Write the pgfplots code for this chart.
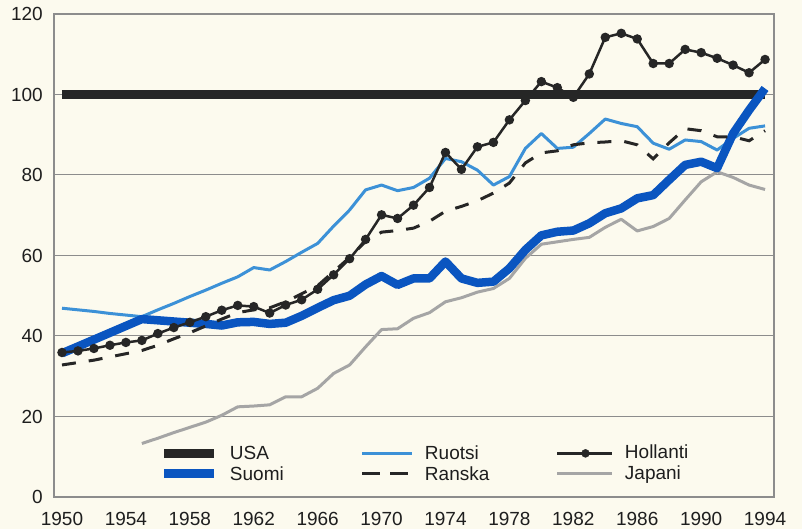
\documentclass[border=0pt]{standalone}
\usepackage{fontspec}
\setmainfont{Liberation Sans}
\usepackage{pgfplots}
\usepackage{pgfplotstable}
\pgfplotsset{compat=1.18}
\definecolor{bg}{RGB}{252,250,238}
\definecolor{suomi}{RGB}{10,85,192}
\definecolor{ruotsi}{RGB}{60,145,215}
\definecolor{japani}{RGB}{165,165,165}
\definecolor{usa}{RGB}{38,38,38}
\definecolor{axgray}{RGB}{140,140,140}
\definecolor{txt}{RGB}{30,30,30}

\pgfplotstableread{
x y
1950 100
1994 100
}\usa

\pgfplotstableread{
x y
1950 35.7
1951 37.4
1952 39.1
1953 40.8
1954 42.5
1955 44.2
1956 43.9
1957 43.6
1958 43.3
1959 43.0
1960 42.6
1961 43.4
1962 43.5
1963 43.0
1964 43.3
1965 45.0
1966 47.0
1967 48.9
1968 50.0
1969 52.8
1970 54.9
1971 52.7
1972 54.3
1973 54.3
1974 58.5
1975 54.3
1976 53.2
1977 53.5
1978 56.8
1979 61.4
1980 65.0
1981 65.9
1982 66.2
1983 68.0
1984 70.5
1985 71.7
1986 74.2
1987 75.0
1988 78.8
1989 82.5
1990 83.3
1991 81.7
1992 90.3
1993 96.1
1994 101.5
}\suomi

\pgfplotstableread{
x y
1950 46.9
1951 46.5
1952 46.1
1953 45.6
1954 45.2
1955 44.8
1956 46.5
1957 48.1
1958 49.8
1959 51.4
1960 53.1
1961 54.7
1962 57.0
1963 56.4
1964 58.5
1965 60.8
1966 63.0
1967 67.3
1968 71.3
1969 76.3
1970 77.5
1971 76.1
1972 76.9
1973 79.2
1974 84.1
1975 83.3
1976 81.2
1977 77.5
1978 79.6
1979 86.6
1980 90.3
1981 86.6
1982 86.9
1983 90.3
1984 93.9
1985 92.8
1986 92.0
1987 87.9
1988 86.4
1989 88.7
1990 88.3
1991 86.2
1992 89.1
1993 91.6
1994 92.2
}\ruotsi

\pgfplotstableread{
x y
1950 32.8
1951 33.4
1952 34.0
1953 34.8
1954 35.6
1955 36.4
1956 37.7
1957 39.3
1958 40.8
1959 42.5
1960 44.2
1961 45.8
1962 46.5
1963 47.0
1964 48.5
1965 50.5
1966 52.5
1967 56.0
1968 59.5
1969 63.5
1970 65.8
1971 66.2
1972 66.8
1973 68.5
1974 71.0
1975 72.2
1976 73.6
1977 75.5
1978 78.0
1979 83.0
1980 85.5
1981 86.0
1982 87.5
1983 88.0
1984 88.2
1985 88.5
1986 87.5
1987 84.0
1988 88.0
1989 91.5
1990 91.0
1991 89.5
1992 89.5
1993 88.5
1994 91.0
}\ranska

\pgfplotstableread{
x y
1950 35.9
1951 36.3
1952 36.9
1953 37.7
1954 38.4
1955 38.9
1956 40.6
1957 42.1
1958 43.4
1959 44.8
1960 46.4
1961 47.6
1962 47.3
1963 45.7
1964 47.7
1965 49.0
1966 51.6
1967 55.2
1968 59.2
1969 64.0
1970 70.1
1971 69.2
1972 72.5
1973 76.9
1974 85.6
1975 81.4
1976 87.0
1977 88.1
1978 93.7
1979 98.5
1980 103.2
1981 101.7
1982 99.3
1983 105.1
1984 114.2
1985 115.2
1986 113.8
1987 107.7
1988 107.7
1989 111.2
1990 110.4
1991 109.0
1992 107.3
1993 105.4
1994 108.7
}\hollanti

\pgfplotstableread{
x y
1955 13.3
1956 14.6
1957 16.0
1958 17.3
1959 18.6
1960 20.3
1961 22.4
1962 22.6
1963 22.9
1964 24.9
1965 24.9
1966 27.0
1967 30.7
1968 32.8
1969 37.3
1970 41.6
1971 41.8
1972 44.4
1973 45.8
1974 48.5
1975 49.5
1976 50.9
1977 51.8
1978 54.3
1979 59.3
1980 62.8
1981 63.4
1982 64.0
1983 64.5
1984 67.0
1985 69.0
1986 66.1
1987 67.2
1988 69.2
1989 73.8
1990 78.3
1991 80.8
1992 79.4
1993 77.5
1994 76.4
}\japani

\newcommand{\lt}[1]{\makebox[131pt][l]{\rule[-2.15pt]{0pt}{18pt}#1}}

\begin{document}
\fontsize{19}{22}\selectfont
\begin{tikzpicture}[x=1pt,y=1pt]
\useasboundingbox (-54,-32) rectangle (748,497);
\fill[bg] (-54,-32) rectangle (748,497);
\begin{axis}[
  at={(0,0)}, anchor=south west,
  width=720pt, height=483pt, scale only axis,
  xmin=1949.5, xmax=1994.56, ymin=0, ymax=120,
  xtick={1950,1954,...,1994}, ytick={0,20,...,120},
  major tick length=0pt,
  /pgf/number format/1000 sep={},
  /pgf/number format/assume math mode=true,
  ticklabel style={font=\fontsize{19}{22}\selectfont, text=txt, inner sep=0pt},
  yticklabel style={xshift=-11pt},
  xticklabel style={yshift=-15pt},
  axis line style={axgray, line width=1.2pt},
  ymajorgrids, grid style={axgray, line width=1pt},
  legend columns=3,
  legend cell align=left,
  legend style={at={(rel axis cs:0.1472,0.1097)}, anchor=north west,
    draw=none, fill=none, inner sep=0pt, outer sep=0pt,
    font=\fontsize{19}{22}\selectfont, text=txt,
    row sep=1.65pt,
    nodes={inner sep=0pt, outer sep=0pt},
    /tikz/every odd column/.append style={column sep=11pt},
    /tikz/every even column/.append style={column sep=0pt}},
]
\addplot[usa, line width=9pt, forget plot] table {\usa};
\addplot[japani, line width=3pt, line join=round, forget plot] table {\japani};
\addplot[ruotsi, line width=3pt, line join=round, forget plot] table {\ruotsi};
\addplot[suomi, line width=8.5pt, line join=round, forget plot] table {\suomi};
\addplot[usa, line width=3pt, dash pattern=on 14pt off 13pt, forget plot] table {\ranska};
\addplot[usa, line width=2.5pt, mark=*, mark size=3.4pt, forget plot] table {\hollanti};

\addlegendimage{legend image code/.code={\draw[usa, line width=9pt] (0pt,0pt) -- (50pt,0pt);}}
\addlegendentry{\lt{USA}}
\addlegendimage{legend image code/.code={\draw[ruotsi, line width=3pt] (0pt,0pt) -- (50pt,0pt);}}
\addlegendentry{\lt{Ruotsi}}
\addlegendimage{legend image code/.code={\draw[usa, line width=2.5pt] (0pt,0pt) -- (55pt,0pt); \fill[usa] (28pt,0pt) circle (4pt);}}
\addlegendentry{Hollanti}
\addlegendimage{legend image code/.code={\draw[suomi, line width=8.5pt] (0pt,0pt) -- (50pt,0pt);}}
\addlegendentry{\lt{Suomi}}
\addlegendimage{legend image code/.code={\draw[usa, line width=3pt, dash pattern=on 18pt off 10pt] (0pt,0pt) -- (46pt,0pt); \path (50pt,0pt);}}
\addlegendentry{\lt{Ranska}}
\addlegendimage{legend image code/.code={\draw[japani, line width=3pt] (0pt,0pt) -- (55pt,0pt);}}
\addlegendentry{Japani}
\end{axis}
\end{tikzpicture}
\end{document}
